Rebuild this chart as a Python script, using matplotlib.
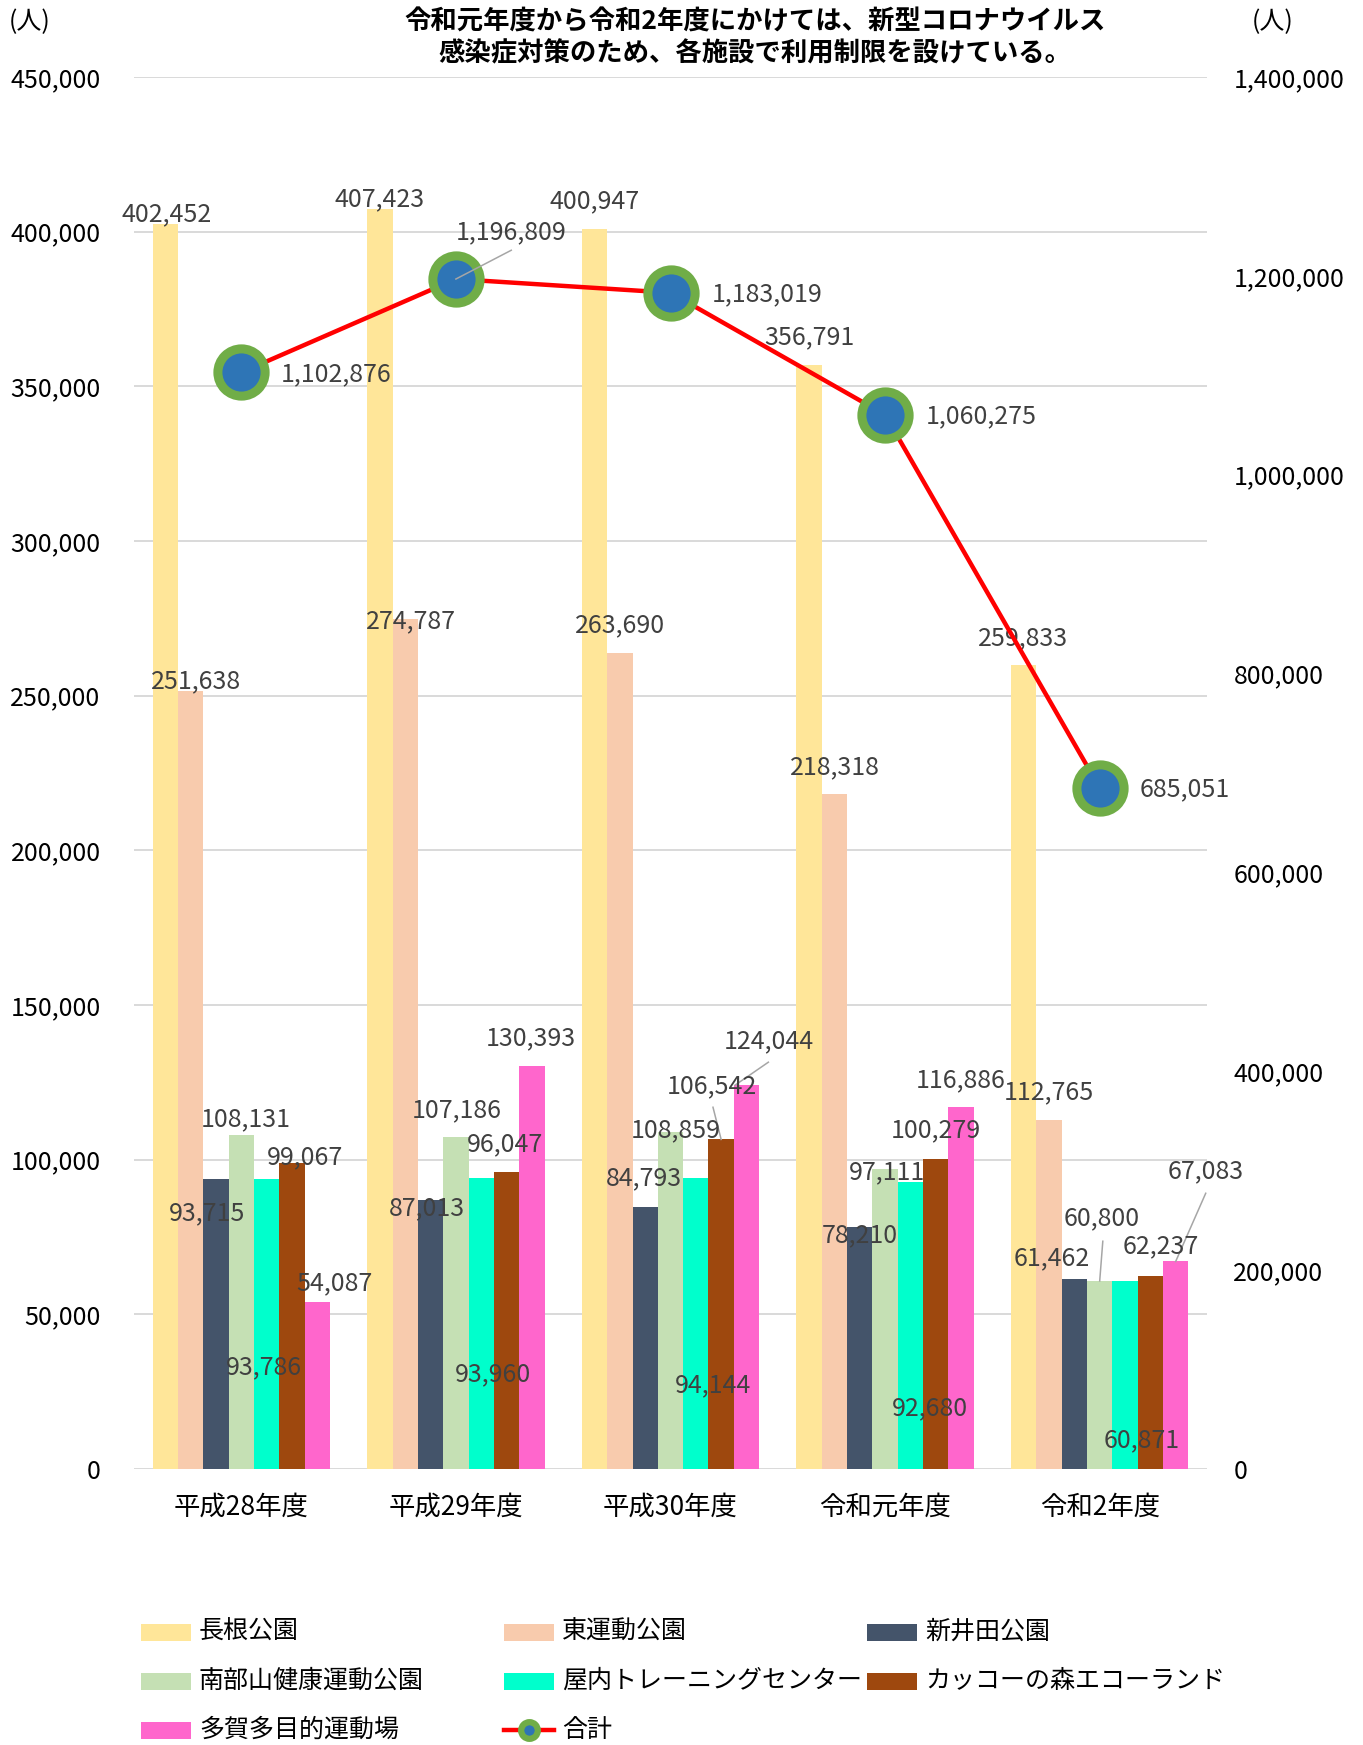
import numpy as np
import matplotlib
matplotlib.use('Agg')
import matplotlib.pyplot as plt
from matplotlib.patches import Rectangle
from matplotlib.lines import Line2D

plt.rcParams['font.family'] = ['Noto Sans CJK JP', 'DejaVu Sans']

# data
years = ['平成28年度', '平成29年度', '平成30年度', '令和元年度', '令和2年度']

nagane = [402452, 407423, 400947, 356791, 259833]
higashi = [251638, 274787, 263690, 218318, 112765]
niida = [93715, 87013, 84793, 78210, 61462]
nanbuyama = [108131, 107186, 108859, 97111, 60800]
okunai = [93786, 93960, 94144, 92680, 60871]
kakko = [99067, 96047, 106542, 100279, 62237]
taga = [54087, 130393, 124044, 116886, 67083]
total = [1102876, 1196809, 1183019, 1060275, 685051]

series_names = ['長根公園', '東運動公園', '新井田公園', '南部山健康運動公園',
                '屋内トレーニングセンター', 'カッコーの森エコーランド', '多賀多目的運動場']
total_name = '合計'
series_values = [nagane, higashi, niida, nanbuyama, okunai, kakko, taga]
colors = ['#FFE699', '#F8CBAD', '#44546A', '#C5E0B4', '#00FFCC', '#9E480E', '#FF66CC']

title_lines = ['令和元年度から令和2年度にかけては、新型コロナウイルス',
               '感染症対策のため、各施設で利用制限を設けている。']

# label placement (dx from category centre, y in axis units) - moved by hand in the original
label_pos = [
    [(-0.350, 405753), (-0.355, 410429), (-0.355, 409710), (-0.355, 365825), (-0.355, 268703)],
    [(-0.210, 254675), (-0.210, 274099), (-0.236, 272660), (-0.236, 226977), (-0.236, 121942)],
    [(-0.158, 82733), (-0.137, 84172), (-0.122, 93884), (-0.117, 75539), (-0.225, 67985)],
    [(0.023, 112949), (0.003, 115827), (0.023, 109352), (0.008, 96043), (0.008, 80935)],
    [(0.106, 32734), (0.174, 30575), (0.199, 26978), (0.210, 19784), (0.194, 9352)],
    [(0.298, 100719), (0.231, 105035), (0.194, 123740), (0.236, 109352), (0.283, 71942)],
    [(0.433, 60072), (0.350, 139208), (0.459, 138129), (0.350, 125539), (0.495, 96402)],
]
total_label_pos = [(0.443, 1101200), (0.256, 1243880), (0.448, 1181770), (0.448, 1058669), (0.396, 683770)]

# leader lines: (series, category, dx start, y start, dx end) -> ends at the value
leaders = [
    (5, 2, 0.198, 116943, 0.236),
    (6, 2, 0.456, 131509, 0.300),
    (3, 4, 0.0145, 73633, 0.0),
    (6, 4, 0.494, 89136, 0.354),
]
total_leader = (1, 0.258, 1225760, 0.0)

W, H = 1363, 1745
fig = plt.figure(figsize=(W / 100, H / 100), dpi=100)
ax = fig.add_axes([134 / W, 1 - 1469 / H, 1073 / W, 1392 / H])
ax2 = ax.twinx()

x = np.arange(len(years))
bar_w = 0.118
offsets = (np.arange(len(series_names)) - 3) * bar_w

label_color = '#404040'
lab_fs = 18

for i, (name, vals, c) in enumerate(zip(series_names, series_values, colors)):
    ax.bar(x + offsets[i], vals, width=bar_w, color=c, linewidth=0, zorder=2)
    for k, v in enumerate(vals):
        dx, ly = label_pos[i][k]
        ax.text(x[k] + dx, ly, f'{v:,}', ha='center', va='center',
                fontsize=lab_fs, color=label_color, zorder=5)

for s, k, dx0, y0, dx1 in leaders:
    ax.plot([x[k] + dx0, x[k] + dx1], [y0, series_values[s][k]],
            color='#A6A6A6', lw=1.1, zorder=4)

ax.set_xlim(-0.5, len(years) - 0.5)
ax.set_ylim(0, 450000)
ax.set_yticks(np.arange(0, 450001, 50000))
ax.yaxis.set_major_formatter(matplotlib.ticker.FuncFormatter(lambda v, p: f'{int(v):,}'))
ax.set_xticks(x)
ax.set_xticklabels(years, fontsize=19)
ax.tick_params(axis='y', length=0, pad=24, labelsize=18)
ax.tick_params(axis='x', length=0, pad=18)
ax.grid(axis='y', color='#D9D9D9', lw=1.4, zorder=0)
ax.set_axisbelow(True)
for sp in ax.spines.values():
    sp.set_visible(False)

# total line on the right axis
ax2.plot(x, total, color='#FF0000', lw=3.2, marker='o', ms=34,
         mfc='#2E75B6', mec='#70AD47', mew=6.5, zorder=3)
for k, v in enumerate(total):
    dx, ly = total_label_pos[k]
    ax2.text(x[k] + dx, ly, f'{v:,}', ha='center', va='center',
             fontsize=lab_fs, color=label_color, zorder=5)
k, dx0, y0, dx1 = total_leader
ax2.plot([x[k] + dx0, x[k] + dx1], [y0, total[k]], color='#A6A6A6', lw=1.1, zorder=4)

ax2.set_ylim(0, 1400000)
ax2.set_yticks(np.arange(0, 1400001, 200000))
ax2.yaxis.set_major_formatter(matplotlib.ticker.FuncFormatter(lambda v, p: f'{int(v):,}'))
ax2.tick_params(axis='y', length=0, pad=19, labelsize=18)
for sp in ax2.spines.values():
    sp.set_visible(False)


def fpos(px, py):
    return px / W, 1 - py / H


# title and unit labels
fig.text(*fpos(755, 22), title_lines[0], ha='center', va='center', fontsize=19, fontweight='bold')
fig.text(*fpos(755, 54), title_lines[1], ha='center', va='center', fontsize=19, fontweight='bold')
fig.text(*fpos(9, 22), '(人)', ha='left', va='center', fontsize=18)
fig.text(*fpos(1252, 22), '(人)', ha='left', va='center', fontsize=18)

# legend drawn by hand, 3 columns, row-major
col_x = [141, 504, 867]
row_y = [1632, 1681, 1730]
entries = list(zip(series_names, colors)) + [(total_name, None)]
for n, (name, c) in enumerate(entries):
    px = col_x[n % 3]
    py = row_y[n // 3]
    if c is not None:
        fig.add_artist(Rectangle(fpos(px, py + 8.5), 50 / W, 17 / H,
                                 transform=fig.transFigure, color=c, lw=0))
    else:
        x0, yy = fpos(px, py)
        x1, _ = fpos(px + 50, py)
        fig.add_artist(Line2D([x0, x1], [yy, yy], transform=fig.transFigure,
                              color='#FF0000', lw=3.2))
        fig.add_artist(Line2D([(x0 + x1) / 2], [yy], transform=fig.transFigure,
                              marker='o', ms=12, mfc='#2E75B6', mec='#70AD47', mew=4.5, lw=0))
    fig.text(*fpos(px + 58, py), name, ha='left', va='center', fontsize=18)

fig.savefig('out.png', dpi=100)
